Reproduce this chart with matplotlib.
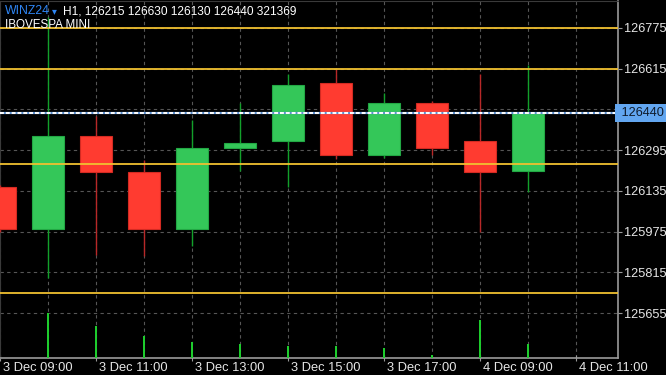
import numpy as np
import matplotlib
matplotlib.use("Agg")
import matplotlib.pyplot as plt
from matplotlib.transforms import ScaledTranslation

# ---------- data ----------
opens = [126150, 125985, 126350, 126210, 125985, 126305, 126330, 126560, 126275, 126480, 126330, 126215]
highs = [126160, 126820, 126430, 126255, 126415, 126480, 126595, 126615, 126520, 126490, 126595, 126630]
lows = [125975, 125795, 125885, 125880, 125920, 126215, 126150, 126260, 126265, 126275, 125975, 126130]
closes = [125985, 126350, 126210, 125985, 126305, 126325, 126550, 126275, 126480, 126305, 126210, 126440]
volumes = [np.nan, 1004000, 726000, 501000, 366000, 321000, 276000, 276000, 231000, 61000, 854000, 321369]

level_lines = [126775, 126615, 126240, 125735]
last_price = 126440
price_ticks = [125655, 125815, 125975, 126135, 126295, 126455, 126615, 126775]

time_idx = [0, 2, 4, 6, 8, 10, 12]
time_labels = ["3 Dec 09:00", "3 Dec 11:00", "3 Dec 13:00", "3 Dec 15:00",
               "3 Dec 17:00", "4 Dec 09:00", "4 Dec 11:00"]

# ---------- style ----------
UP = "#34c759"
UP_EDGE = "#22a844"
UP_WICK = "#12a02a"
DN = "#ff3b30"
DN_EDGE = "#d42a22"
DN_WICK = "#b82828"
GRID = "#565656"
SPINE = "#9a9a9a"
TXT = "#e6e6e6"
FONT = "Liberation Sans"

plt.rcParams["font.family"] = [FONT, "DejaVu Sans"]

fig = plt.figure(figsize=(6.66, 3.75), dpi=100, facecolor="black")
ax = fig.add_axes([0, 17 / 375, 618 / 666, 357 / 375])
ax.set_facecolor("black")

x = np.arange(len(opens))
width = 0.67

# grid
ax.set_xticks(time_idx)
ax.set_xticks([i for i in range(0, 13) if i not in time_idx], minor=True)
ax.grid(True, which="both", color=GRID, linestyle=(0, (3, 3)), linewidth=0.8)
ax.set_axisbelow(True)

# volume (drawn in bottom of the main chart)
vax = ax.twinx()
vax.set_ylim(0, 8.02e6)
vax.vlines(x, 0, volumes, color="#1ed12e", linewidth=1.4, zorder=2)
vax.axis("off")

# candles
for i in x:
    o, h, l, c = opens[i], highs[i], lows[i], closes[i]
    up = c >= o
    ax.vlines(i, l, h, color=UP_WICK if up else DN_WICK, linewidth=1.0, zorder=3)
    ax.bar(i, abs(c - o), bottom=min(o, c), width=width,
           color=UP if up else DN, edgecolor=UP_EDGE if up else DN_EDGE,
           linewidth=0.8, zorder=4)

# horizontal levels
for lv in level_lines:
    ax.axhline(lv, color="#f0c030", linewidth=1.3, zorder=5)

# current price line
ax.axhline(last_price, color="#5a8fd0", linewidth=1.6, zorder=5)
ax.axhline(last_price, color="white", linewidth=1.4, linestyle=(0, (2, 1)), zorder=6)

ax.set_xlim(0, 618 / 48)
ax.set_ylim(125479, 126881)

# axes look
for side in ["left", "top"]:
    ax.spines[side].set_color("#3a3a3a")
for side in ["right", "bottom"]:
    ax.spines[side].set_color(SPINE)
    ax.spines[side].set_linewidth(1.2)

ax.yaxis.tick_right()
ax.set_yticks(price_ticks)
# the tick right under the price tag is hidden by it
ax.set_yticklabels(["" if abs(p - last_price) < 40 else str(p) for p in price_ticks])
ax.tick_params(axis="y", colors=SPINE, labelcolor=TXT, labelsize=9.2, length=3, pad=1)
ax.tick_params(axis="x", which="major", colors=SPINE, labelcolor=TXT, labelsize=9.3,
               length=4, direction="inout", pad=1)
ax.tick_params(axis="x", which="minor", length=0)
ax.set_xticklabels(time_labels)
for lbl in ax.get_xticklabels():
    lbl.set_ha("left")
    lbl.set_transform(lbl.get_transform() + ScaledTranslation(3 / 100, 0, fig.dpi_scale_trans))

# current price tag
ax.text(1.0, last_price, f" {last_price}", transform=ax.get_yaxis_transform(),
        ha="left", va="center", fontsize=9.2, color="#0e1a2a", zorder=10, clip_on=False,
        bbox=dict(boxstyle="square,pad=0.22", facecolor="#62a6f0", edgecolor="none"))

# header
fig.text(5 / 666, 1 - 11 / 375, "WINZ24", color="#2f86f5", fontsize=8.8,
         ha="left", va="center")
fig.text(52 / 666, 1 - 11 / 375, "\u25be", color="#2f86f5", fontsize=7,
         ha="left", va="center", family=["DejaVu Sans"])
fig.text(63 / 666, 1 - 11 / 375, "H1, 126215 126630 126130 126440 321369", color="white",
         fontsize=8.6, ha="left", va="center")
fig.text(5 / 666, 1 - 25 / 375, "IBOVESPA MINI", color="white", fontsize=8.4,
         ha="left", va="center")

fig.savefig("out.png", dpi=100, facecolor="black")
